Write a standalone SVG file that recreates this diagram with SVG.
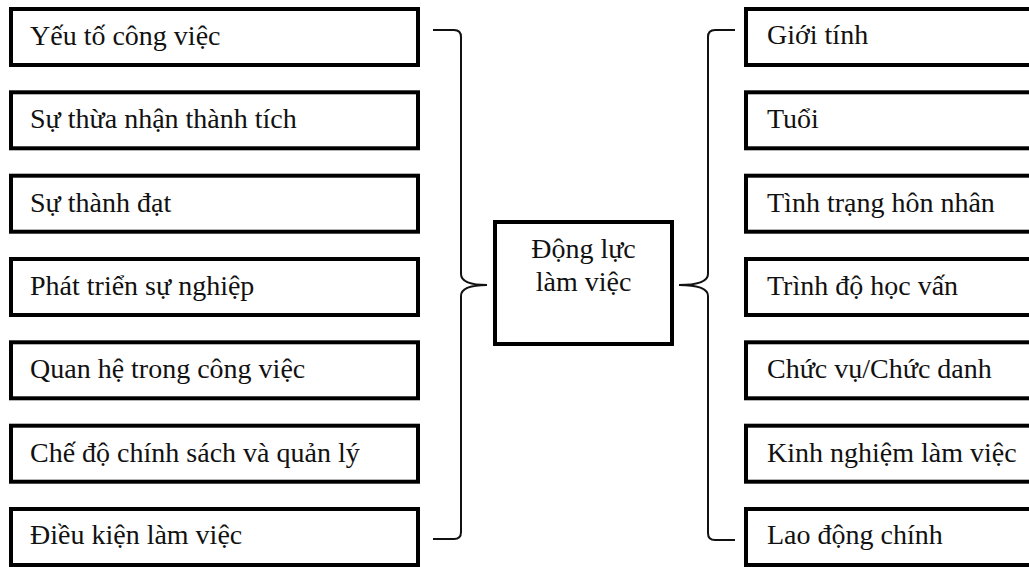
<svg xmlns="http://www.w3.org/2000/svg" width="1029" height="567" viewBox="0 0 1029 567">
<style>
.box{fill:#fff;stroke:#000;stroke-width:4}
.t{font-family:"Liberation Serif","Times New Roman",serif;font-size:28px;fill:#111}
.c{text-anchor:middle}
.br{fill:none;stroke:#111;stroke-width:2}
</style>
<rect width="1029" height="567" fill="#fff"/>
<g id="left-nodes">
<g id="l1"><rect class="box" x="11" y="9" width="407" height="56"/><text class="t" x="30" y="45">Yếu tố công việc</text></g>
<g id="l2"><rect class="box" x="11" y="92.3" width="407" height="56"/><text class="t" x="30" y="128.3">Sự thừa nhận thành tích</text></g>
<g id="l3"><rect class="box" x="11" y="175.7" width="407" height="56"/><text class="t" x="30" y="211.7">Sự thành đạt</text></g>
<g id="l4"><rect class="box" x="11" y="259" width="407" height="56"/><text class="t" x="30" y="295">Phát triển sự nghiệp</text></g>
<g id="l5"><rect class="box" x="11" y="342.3" width="407" height="56"/><text class="t" x="30" y="378.3">Quan hệ trong công việc</text></g>
<g id="l6"><rect class="box" x="11" y="425.7" width="407" height="56"/><text class="t" x="30" y="461.7">Chế độ chính sách và quản lý</text></g>
<g id="l7"><rect class="box" x="11" y="509" width="407" height="56"/><text class="t" x="30" y="544">Điều kiện làm việc</text></g>
</g>
<g id="center">
<rect class="box" x="495" y="222" width="177" height="122"/>
<text class="t c" x="583.5" y="258">Động lực</text>
<text class="t c" x="583.5" y="291">làm việc</text>
</g>
<g id="right-nodes">
<g id="r1"><rect class="box" x="746" y="9" width="300" height="56"/><text class="t" x="767" y="44">Giới tính</text></g>
<g id="r2"><rect class="box" x="746" y="92.3" width="300" height="56"/><text class="t" x="767" y="128.3">Tuổi</text></g>
<g id="r3"><rect class="box" x="746" y="175.7" width="300" height="56"/><text class="t" x="767" y="211.7">Tình trạng hôn nhân</text></g>
<g id="r4"><rect class="box" x="746" y="259" width="300" height="56"/><text class="t" x="767" y="295">Trình độ học vấn</text></g>
<g id="r5"><rect class="box" x="746" y="342.3" width="300" height="56"/><text class="t" x="767" y="378.3">Chức vụ/Chức danh</text></g>
<g id="r6"><rect class="box" x="746" y="425.7" width="300" height="56"/><text class="t" x="767" y="461.7">Kinh nghiệm làm việc</text></g>
<g id="r7"><rect class="box" x="746" y="509" width="300" height="56"/><text class="t" x="767" y="544">Lao động chính</text></g>
</g>
<g id="connectors">
<path class="br" d="M433,30 L454,30 Q461,30 461,37 L461,274 Q461,285 487,285 Q461,285 461,296 L461,532 Q461,539 454,539 L433,539"/>
<path class="br" d="M735,30 L715,30 Q708,30 708,37 L708,274 Q708,285 679,285 Q708,285 708,296 L708,533 Q708,540 715,540 L735,540"/>
</g>
</svg>
